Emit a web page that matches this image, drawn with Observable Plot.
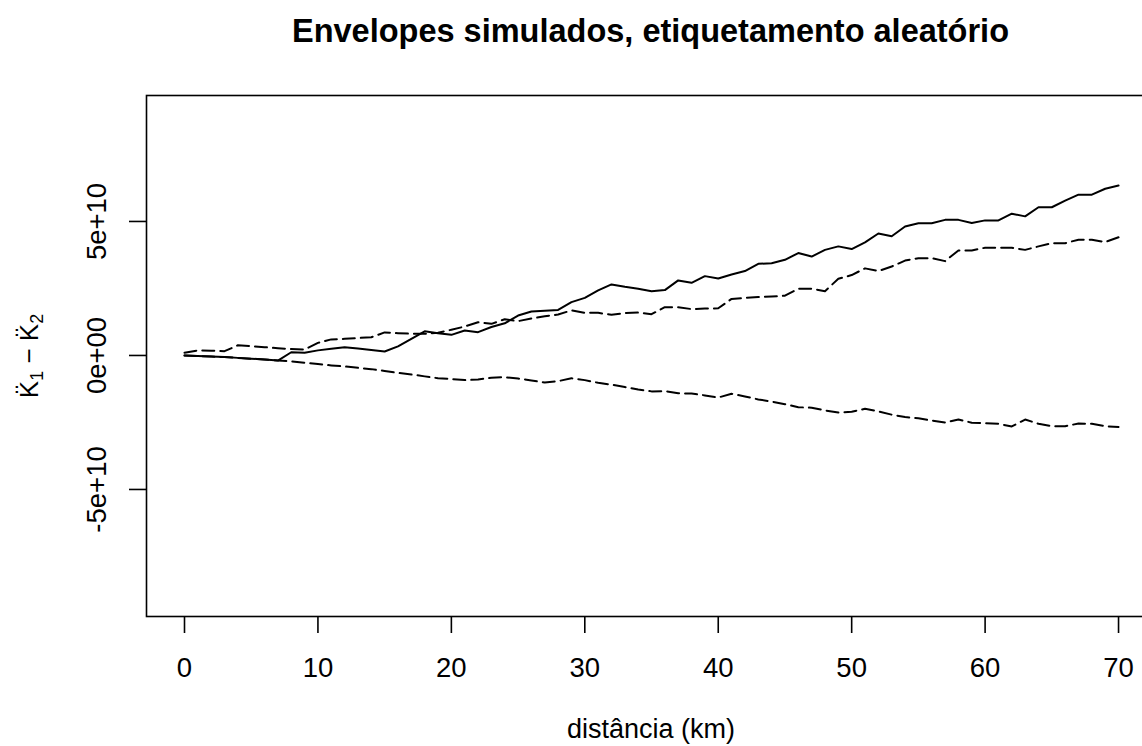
<!DOCTYPE html>
<html><head><meta charset="utf-8">
<script src="https://cdn.jsdelivr.net/npm/d3@7"></script>
<script src="https://cdn.jsdelivr.net/npm/@observablehq/plot@0.6"></script>
<style>
html,body{margin:0;padding:0;background:#fff;overflow:hidden;width:1142px;height:746px}
#title{height:56px;width:1160px;box-sizing:border-box;padding-left:146px;padding-right:5px;text-align:center;font:bold 32.5px "Liberation Sans",Arial,sans-serif;line-height:62px;color:#000;white-space:nowrap;overflow:visible}
#chart{width:1160px}
#chart svg{display:block;max-width:none !important;width:1160px;height:690px}
</style></head><body>
<div id="title"></div>
<div id="chart"></div>
<script>
// distances (km)
const distancia = d3.range(0, 71);
// values in units of 1e10
const UNIT = 1e10;
const observado = [0,-0.02,-0.04,-0.06,-0.09,-0.12,-0.15,-0.19,0.12,0.1,
  0.19,0.25,0.31,0.26,0.2,0.15,0.34,0.62,0.9,0.83,
  0.77,0.93,0.87,1.06,1.2,1.49,1.64,1.67,1.7,1.99,
  2.15,2.43,2.65,2.56,2.49,2.4,2.44,2.8,2.71,2.96,
  2.87,3.02,3.15,3.42,3.44,3.57,3.82,3.69,3.94,4.07,
  3.97,4.22,4.55,4.45,4.81,4.93,4.93,5.06,5.06,4.94,
  5.04,5.04,5.29,5.19,5.53,5.53,5.78,6.0,6.0,6.22,6.34];
const envSuperior = [0.1,0.19,0.18,0.16,0.38,0.35,0.31,0.27,0.24,0.22,
  0.47,0.6,0.62,0.65,0.68,0.86,0.83,0.81,0.81,0.85,
  0.96,1.08,1.24,1.18,1.35,1.28,1.38,1.46,1.53,1.68,
  1.59,1.59,1.52,1.58,1.6,1.54,1.8,1.8,1.73,1.75,
  1.76,2.11,2.15,2.18,2.2,2.23,2.49,2.49,2.4,2.86,
  3.0,3.25,3.15,3.32,3.54,3.63,3.63,3.52,3.92,3.92,
  4.02,4.02,4.02,3.94,4.07,4.19,4.19,4.32,4.32,4.23,4.41];
const envInferior = [0,-0.02,-0.04,-0.06,-0.09,-0.12,-0.15,-0.19,-0.22,-0.27,
  -0.32,-0.37,-0.41,-0.46,-0.51,-0.58,-0.65,-0.71,-0.78,-0.85,
  -0.88,-0.92,-0.9,-0.83,-0.81,-0.86,-0.93,-1.01,-0.96,-0.85,
  -0.92,-1.02,-1.09,-1.18,-1.27,-1.34,-1.33,-1.41,-1.42,-1.49,
  -1.57,-1.43,-1.53,-1.64,-1.72,-1.82,-1.93,-1.95,-2.05,-2.13,
  -2.1,-1.99,-2.09,-2.21,-2.3,-2.34,-2.43,-2.5,-2.39,-2.51,
  -2.53,-2.55,-2.65,-2.39,-2.55,-2.64,-2.64,-2.54,-2.55,-2.64,-2.67];
const xTicks = [0, 10, 20, 30, 40, 50, 60, 70];
const yTicks = [-5e10, 0, 5e10];
const yTickLabels = ["-5e+10", "0e+00", "5e+10"];
const titulo = "Envelopes simulados, etiquetamento aleatório";
const xLabel = "distância (km)";
// y label parts: K̈ sub 1 − K̈ sub 2
const yLabelParts = [["K\u0308", false], ["1", true], [" \u2212 K\u0308", false], ["2", true]];
const yLabel = "K\u0308\u2081 \u2212 K\u0308\u2082";

const mk = (arr) => distancia.map((d, i) => ({d, v: arr[i] * UNIT}));
const font = "Liberation Sans, Arial, Helvetica, sans-serif";
const FS = 27.5;

const chart = Plot.plot({
  width: 1160, height: 690,
  marginTop: 39, marginBottom: 130, marginLeft: 146, marginRight: 5,
  x: {domain: [-2.848, 72.77]},
  y: {domain: [-9.74e10, 9.70e10]},
  style: {fontFamily: font, fontSize: FS + "px", color: "#000", background: "#fff"},
  marks: [
    Plot.frame({stroke: "#000", strokeWidth: 1.6}),
    Plot.axisX({ticks: xTicks, tickSize: 17, tickPadding: 24, label: null, strokeWidth: 1.6, fontSize: FS, tickFormat: d => String(d)}),
    Plot.axisY({ticks: yTicks, tickSize: 17, label: null, strokeWidth: 1.6, tickFormat: () => ""}),
    Plot.text(yTicks, {y: d => d, text: (d, i) => yTickLabels[i], frameAnchor: "left", dx: -49, rotate: -90, textAnchor: "middle", lineAnchor: "middle", fontSize: FS}),
    Plot.text([yLabel], {text: d => d, frameAnchor: "left", dx: -117, rotate: -90, textAnchor: "middle", lineAnchor: "middle", fontSize: 26}),
    Plot.text([xLabel], {text: d => d, frameAnchor: "bottom", dy: 113, textAnchor: "middle", lineAnchor: "middle", fontSize: 27}),
    Plot.lineY(mk(envInferior), {x: "d", y: "v", stroke: "#000", strokeWidth: 2, strokeDasharray: "12,6"}),
    Plot.lineY(mk(envSuperior), {x: "d", y: "v", stroke: "#000", strokeWidth: 2, strokeDasharray: "12,6"}),
    Plot.lineY(mk(observado), {x: "d", y: "v", stroke: "#000", strokeWidth: 2})
  ]
});
document.getElementById("title").textContent = titulo;
document.getElementById("chart").appendChild(chart);
// rebuild the y label with real subscripts
d3.select(chart).selectAll("text").each(function() {
  if (this.textContent === yLabel) {
    const t = d3.select(this);
    t.text(null);
    yLabelParts.forEach(([s, sub], i) => {
      const ts = t.append("tspan").text(s);
      if (sub) ts.attr("font-size", "18px").attr("dy", "0.3em");
      else if (i > 0) ts.attr("dy", "-0.2em");
    });
  }
});
</script>
</body></html>
